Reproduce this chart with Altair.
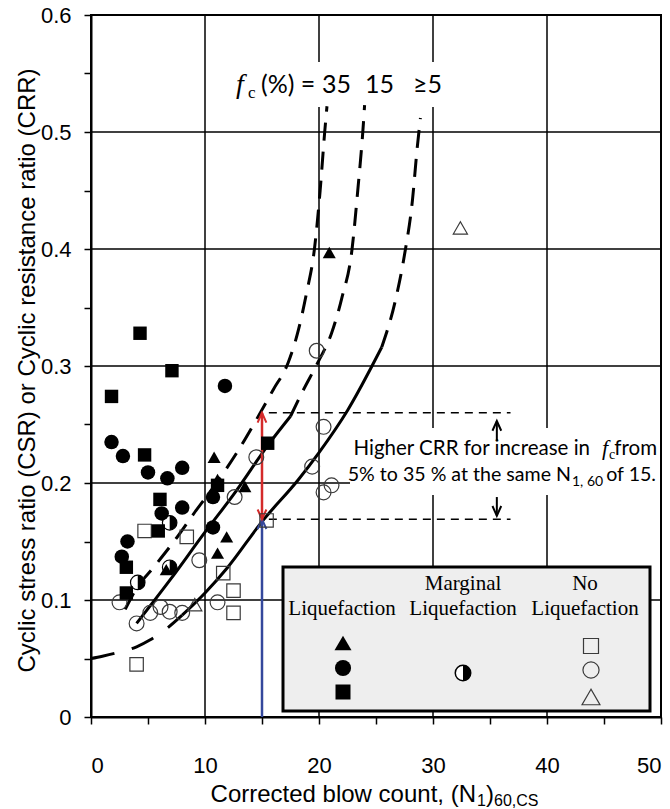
import altair as alt
import pandas as pd

# ---------------- field cases: corrected blow count vs. cyclic stress ratio ----------------
LIQ_TRI_N = [10.8, 11.1, 13.5, 11.9, 11.1, 6.6, 20.9]
LIQ_TRI_CSR = [0.222, 0.203, 0.197, 0.154, 0.140, 0.126, 0.397]

LIQ_CIR_N = [1.8, 2.8, 5.0, 6.7, 8.0, 11.75, 10.7, 8.0, 6.2, 10.7, 3.2, 2.7]
LIQ_CIR_CSR = [0.235, 0.223, 0.209, 0.204, 0.213, 0.283, 0.188, 0.179, 0.174, 0.162, 0.150, 0.137]

LIQ_SQ_N = [4.3, 7.1, 1.8, 4.7, 6.05, 11.1, 15.5, 5.9, 3.1, 3.1]
LIQ_SQ_CSR = [0.328, 0.296, 0.274, 0.224, 0.186, 0.198, 0.234, 0.159, 0.128, 0.106]

MARG_N = [6.9, 6.9, 4.1]
MARG_CSR = [0.166, 0.128, 0.115]

NO_SQ_N = [4.7, 8.4, 11.6, 12.5, 12.5, 4.0, 15.4]
NO_SQ_CSR = [0.159, 0.154, 0.123, 0.108, 0.089, 0.045, 0.168]

NO_CIR_N = [2.5, 4.0, 5.2, 6.1, 6.9, 8.0, 9.5, 11.1, 12.6, 14.5, 19.8, 20.4, 19.4, 20.4, 21.1]
NO_CIR_CSR = [0.098, 0.080, 0.089, 0.094, 0.090, 0.089, 0.134, 0.098, 0.188, 0.222,
              0.313, 0.248, 0.214, 0.192, 0.198]

NO_TRI_N = [9.1, 32.4]
NO_TRI_CSR = [0.096, 0.418]

# ---------------- CRR curves by fines content ----------------
FC35_N = [3.0, 4.0, 5.5, 7.5, 9.1, 11.0, 12.8, 14.5, 16.0, 17.3, 18.2, 18.9, 19.6, 20.1, 20.5, 20.7]
FC35_CRR = [0.092, 0.110, 0.128, 0.153, 0.175, 0.200, 0.226, 0.254, 0.280, 0.303,
            0.331, 0.362, 0.400, 0.450, 0.500, 0.522]

FC15_SOLID_N = [4.0, 7.0, 10.0, 12.5, 15.5, 17.5]
FC15_SOLID_CRR = [0.080, 0.118, 0.158, 0.190, 0.232, 0.257]
FC15_DASH_N = [17.5, 18.6, 19.9, 21.1, 22.0, 22.9, 23.4, 23.9, 24.0]
FC15_DASH_CRR = [0.257, 0.279, 0.303, 0.328, 0.358, 0.400, 0.450, 0.508, 0.523]

FC5_LOW_N = [0.0, 1.0, 2.3, 4.0, 5.2, 6.7, 8.0]
FC5_LOW_CRR = [0.050, 0.052, 0.055, 0.060, 0.066, 0.076, 0.087]
FC5_SOLID_N = [8.0, 10.0, 12.0, 15.0, 18.2, 20.0, 22.5, 25.5]
FC5_SOLID_CRR = [0.087, 0.106, 0.128, 0.167, 0.203, 0.226, 0.262, 0.316]
FC5_HIGH_N = [25.5, 26.7, 27.5, 28.2, 28.6, 28.9]
FC5_HIGH_CRR = [0.316, 0.356, 0.395, 0.442, 0.485, 0.512]

# ---------------- CRR gain at N1,60 = 15 ----------------
N_REF = 15
CRR_CLEAN = 0.169
CRR_FC35 = 0.26
GUIDE_N = [15.6, 36.8]
NOTE_N = 35.6
NOTE_UP = [0.236, 0.253]
NOTE_DOWN = [0.188, 0.172]

# ---------------- axes ----------------
GRID_N = [10, 20, 30, 40]
GRID_CRR = [0.1, 0.2, 0.3, 0.4, 0.5]
X_TICKS = list(range(0, 55, 5))
Y_TICKS = [round(0.05 * i, 2) for i in range(13)]
Y_TITLE = "Cyclic stress ratio (CSR) or Cyclic resistance ratio (CRR)"

SANS = "Liberation Sans"
SERIF = "Liberation Serif"
NOTE_FONT = "Lato"
RED = "#d42a2a"
BLUE = "#34489c"

XS = alt.Scale(domain=[0, 50], nice=False)
YS = alt.Scale(domain=[0, 0.6], nice=False)
ONE = pd.DataFrame({"k": [0]})


def df(n, crr):
    return pd.DataFrame({"n": n, "crr": crr})


def xy(data):
    return alt.Chart(data).encode(
        x=alt.X("n:Q", scale=XS, title=None),
        y=alt.Y("crr:Q", scale=YS, title=Y_TITLE),
    )


x_axis = alt.Axis(
    values=X_TICKS, format="d", grid=False,
    labelExpr="datum.value % 10 == 0 ? datum.label : ''",
    domainColor="black", domainWidth=2, tickColor="black", tickWidth=1.5, tickSize=7,
    labelFont=SANS, labelFontSize=22, labelColor="black", labelPadding=31,
)
y_axis = alt.Axis(
    values=Y_TICKS, grid=False,
    labelExpr="round(datum.value * 100) % 10 == 0 ? (datum.value == 0 ? '0' : format(datum.value, '.1f')) : ''",
    domainColor="black", domainWidth=2, tickColor="black", tickWidth=1.5, tickSize=7,
    labelFont=SANS, labelFontSize=22, labelColor="black", labelPadding=13,
    titleFont=SANS, titleFontSize=24, titleFontWeight="normal", titleColor="black",
    titleAngle=270, titleX=-64, titleY=355, titleAlign="center", titleBaseline="middle",
)

grid_v = alt.Chart(pd.DataFrame({"n": GRID_N})).mark_rule(color="black", strokeWidth=1.5).encode(
    x=alt.X("n:Q", scale=XS, axis=x_axis, title=None)
)
grid_h = alt.Chart(pd.DataFrame({"crr": GRID_CRR})).mark_rule(color="black", strokeWidth=1.5).encode(
    y=alt.Y("crr:Q", scale=YS, axis=y_axis, title=Y_TITLE)
)

# white panels behind the curve key and the note text
key_box = alt.Chart(ONE).mark_rect(fill="white").encode(
    x=alt.value(134), x2=alt.value(356), y=alt.value(47), y2=alt.value(92)
)
note_box = alt.Chart(ONE).mark_rect(fill="white").encode(
    x=alt.value(259), x2=alt.value(569), y=alt.value(413), y2=alt.value(480)
)

DASH = [18, 11]
curves = [
    xy(df(FC35_N, FC35_CRR)).mark_line(color="black", strokeWidth=3, strokeDash=DASH, interpolate="monotone"),
    xy(df(FC15_SOLID_N, FC15_SOLID_CRR)).mark_line(color="black", strokeWidth=3, interpolate="monotone"),
    xy(df(FC15_DASH_N, FC15_DASH_CRR)).mark_line(color="black", strokeWidth=3, strokeDash=DASH, interpolate="monotone"),
    xy(df(FC5_LOW_N, FC5_LOW_CRR)).mark_line(color="black", strokeWidth=3, strokeDash=[24, 18], interpolate="monotone"),
    xy(df(FC5_SOLID_N, FC5_SOLID_CRR)).mark_line(color="black", strokeWidth=3, interpolate="monotone"),
    xy(df(FC5_HIGH_N, FC5_HIGH_CRR)).mark_line(color="black", strokeWidth=3, strokeDash=DASH, interpolate="monotone"),
]

guides = [
    xy(df(GUIDE_N, [lvl, lvl])).mark_line(color="black", strokeWidth=1.5, strokeDash=[8, 6])
    for lvl in (CRR_FC35, CRR_CLEAN)
]

HEAD_UP = "M-0.45,1L0,0L0.45,1"
HEAD_DOWN = "M-0.45,-1L0,0L0.45,-1"


def arrow(n, c0, c1, color, heads, width=2):
    layers = [xy(df([n, n], [c0, c1])).mark_line(color=color, strokeWidth=width)]
    for c, shape in heads:
        layers.append(
            xy(df([n], [c])).mark_point(shape=shape, filled=False, size=380, stroke=color,
                                        strokeWidth=2, opacity=1)
        )
    return layers


arrows = (
    arrow(N_REF, 0, CRR_CLEAN, BLUE, [(CRR_CLEAN, HEAD_UP)], width=2.5)
    + arrow(N_REF, CRR_CLEAN, CRR_FC35, RED, [(CRR_FC35, HEAD_UP), (CRR_CLEAN, HEAD_DOWN)], width=2.5)
    + arrow(NOTE_N, NOTE_UP[0], NOTE_UP[1], "black", [(NOTE_UP[1], HEAD_UP)])
    + arrow(NOTE_N, NOTE_DOWN[0], NOTE_DOWN[1], "black", [(NOTE_DOWN[1], HEAD_DOWN)])
)

HALF_RIGHT = "M0,-1A1,1 0 0,1 0,1Z"
OPEN = "#3a3a3a"
points = [
    xy(df(NO_SQ_N, NO_SQ_CSR)).mark_point(shape="square", filled=False, size=180, stroke=OPEN, strokeWidth=1.2, opacity=1),
    xy(df(NO_CIR_N, NO_CIR_CSR)).mark_point(shape="circle", filled=False, size=220, stroke=OPEN, strokeWidth=1.2, opacity=1),
    xy(df(NO_TRI_N, NO_TRI_CSR)).mark_point(shape="triangle-up", filled=False, size=200, stroke=OPEN, strokeWidth=1.2, opacity=1),
    xy(df(MARG_N, MARG_CSR)).mark_point(shape="circle", filled=True, fill="white", size=210, stroke="black", strokeWidth=1.2, opacity=1),
    xy(df(MARG_N, MARG_CSR)).mark_point(shape=HALF_RIGHT, filled=True, fill="black", size=210, opacity=1),
    xy(df(LIQ_SQ_N, LIQ_SQ_CSR)).mark_point(shape="square", filled=True, fill="black", size=180, opacity=1),
    xy(df(LIQ_CIR_N, LIQ_CIR_CSR)).mark_point(shape="circle", filled=True, fill="black", size=210, opacity=1),
    xy(df(LIQ_TRI_N, LIQ_TRI_CSR)).mark_point(shape="triangle-up", filled=True, fill="black", size=170, opacity=1),
]


def text(t, x, y, size, font=SANS, align="left", style="normal", baseline="alphabetic"):
    return alt.Chart(ONE).mark_text(
        text=t, align=align, baseline=baseline, font=font, fontSize=size, fontStyle=style, color="black"
    ).encode(x=alt.value(x), y=alt.value(y))


def symbol(shape, x, y, size, filled, fill="black", stroke="black", sw=1.2):
    kw = dict(shape=shape, size=size, filled=filled, opacity=1, strokeWidth=sw)
    if filled:
        kw["fill"] = fill
    if stroke:
        kw["stroke"] = stroke
    return alt.Chart(ONE).mark_point(**kw).encode(x=alt.value(x), y=alt.value(y))


legend = [
    alt.Chart(ONE).mark_rect(fill="#eeeeee", stroke="black", strokeWidth=3).encode(
        x=alt.value(192), x2=alt.value(559), y=alt.value(552), y2=alt.value(696)
    ),
    text("Liquefaction", 251, 600, 21, font=SERIF, align="center"),
    text("Marginal", 372, 575, 21, font=SERIF, align="center"),
    text("Liquefaction", 372, 600, 21, font=SERIF, align="center"),
    text("No", 494, 575, 21, font=SERIF, align="center"),
    text("Liquefaction", 494, 600, 21, font=SERIF, align="center"),
    symbol("triangle-up", 252, 628, 290, True, stroke=None),
    symbol("circle", 252, 653, 260, True, stroke=None),
    symbol("square", 252, 677, 225, True, stroke=None),
    symbol("circle", 372, 658, 240, True, fill="white", stroke="black", sw=1.5),
    symbol(HALF_RIGHT, 372, 658, 240, True, stroke=None),
    symbol("square", 500, 631, 225, False, stroke=OPEN),
    symbol("circle", 500, 655, 260, False, stroke=OPEN),
    symbol("triangle-up", 500, 682, 320, False, stroke=OPEN),
]

labels = [
    # curve key
    text("f", 145, 78, 28, font=SERIF, style="italic"),
    text("c", 157, 83, 17, font=SERIF),
    text("(%) =", 170, 78, 25, font=NOTE_FONT),
    text("35", 231, 78, 25, font=NOTE_FONT),
    text("15", 274, 78, 25, font=NOTE_FONT),
    text("\u22655", 322, 78, 25, font=NOTE_FONT),
    # note on CRR gain
    text("Higher CRR for increase in", 499, 440, 20.5, font=NOTE_FONT, align="right"),
    text("f", 511, 440, 22, font=SERIF, style="italic"),
    text("c", 518, 444, 14, font=SERIF),
    text("from", 566, 440, 20.5, font=NOTE_FONT, align="right"),
    text("5% to 35 % at the same N", 480, 466, 19.6, font=NOTE_FONT, align="right"),
    text("1, 60", 481, 471, 14, font=NOTE_FONT),
    text("of 15.", 565, 466, 19.6, font=NOTE_FONT, align="right"),
    # x-axis title with subscripts
    text("Corrected blow count, (N", 385, 787, 24, align="right"),
    text("1", 386, 791, 16),
    text(")", 395, 787, 24),
    text("60,CS", 403, 791, 16),
]

chart = alt.layer(
    grid_v, grid_h, key_box, note_box, *curves, *guides, *arrows, *points, *legend, *labels
).properties(
    width=570, height=702,
    padding={"left": 91, "top": 15, "right": 9, "bottom": 92},
    autosize=alt.AutoSizeParams(type="none"),
    background="white",
).configure_view(
    stroke="black", strokeWidth=2
)

chart.save("out.html", embed_options={"renderer": "svg", "actions": False})
